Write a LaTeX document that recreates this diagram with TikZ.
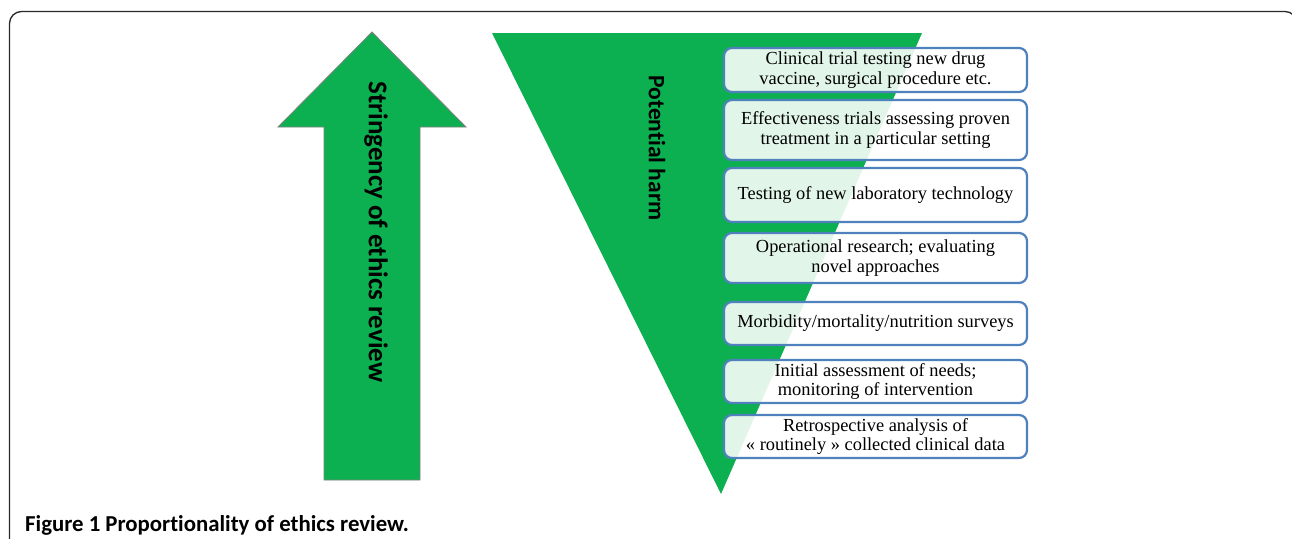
\documentclass[tikz,border=0pt]{standalone}
\usepackage{fontspec}
\setmainfont{Liberation Serif}
\newfontfamily\calfont[Ligatures=NoCommon]{Carlito}
\definecolor{fig green}{RGB}{12,176,80}
\definecolor{box blue}{RGB}{79,129,189}
\definecolor{frame gray}{RGB}{40,40,40}
\begin{document}
\begin{tikzpicture}[x=1pt,y=-1pt,
  shapegreen/.style={fill=fig green},
  itembox/.style={draw=box blue, line width=2.2pt, rounded corners=8pt,
    fill=white, fill opacity=0.88, text opacity=1, minimum width=303pt,
    align=center, inner sep=0pt, font=\fontsize{18.4}{19.5}\selectfont},
  vlabel/.style={rotate=-90, inner sep=0pt}
]
\useasboundingbox (0,0) rectangle (1292,538);
% frame
\draw[frame gray, line width=1.3pt, rounded corners=12pt]
  (9.5,600) -- (9.5,11.5) -- (1297,11.5) -- (1297,600);
% arrow
\draw[shapegreen, draw=gray, line width=0.8pt]
  (372,32) -- (466,127) -- (420,127) -- (420,480) -- (324,480) -- (324,127) -- (278,127) -- cycle;
\node[vlabel, font=\calfont\bfseries\fontsize{27}{29}\selectfont] (stringency) at (376,232) {Stringency of ethics review};
% triangle
\fill[shapegreen] (492,33) -- (922,33) -- (721,494) -- cycle;
\node[vlabel, font=\calfont\bfseries\fontsize{23.5}{25}\selectfont] (harm) at (657,148) {Potential harm};
% boxes
\node[itembox, minimum height=44pt] (b1) at (875.5,70) {Clinical trial testing new drug\\vaccine, surgical procedure etc.};
\node[itembox, minimum height=60pt] (b2) at (875.5,130) {Effectiveness trials assessing proven\\treatment in a particular setting};
\node[itembox, minimum height=54pt] (b3) at (875.5,195) {Testing of new laboratory technology};
\node[itembox, minimum height=50pt] (b4) at (875.5,258) {Operational research; evaluating\\novel approaches};
\node[itembox, minimum height=43pt] (b5) at (875.5,323.5) {Morbidity/mortality/nutrition surveys};
\node[itembox, minimum height=43pt] (b6) at (875.5,381.5) {Initial assessment of needs;\\monitoring of intervention};
\node[itembox, minimum height=43pt] (b7) at (875.5,436.5) {Retrospective analysis of\\« routinely » collected clinical data};
% caption
\node[anchor=base west, inner sep=0pt, font=\calfont\bfseries\fontsize{22.8}{24}\selectfont] (caption) at (25,531) {Figure 1 Proportionality of ethics review.};
\end{tikzpicture}
\end{document}
